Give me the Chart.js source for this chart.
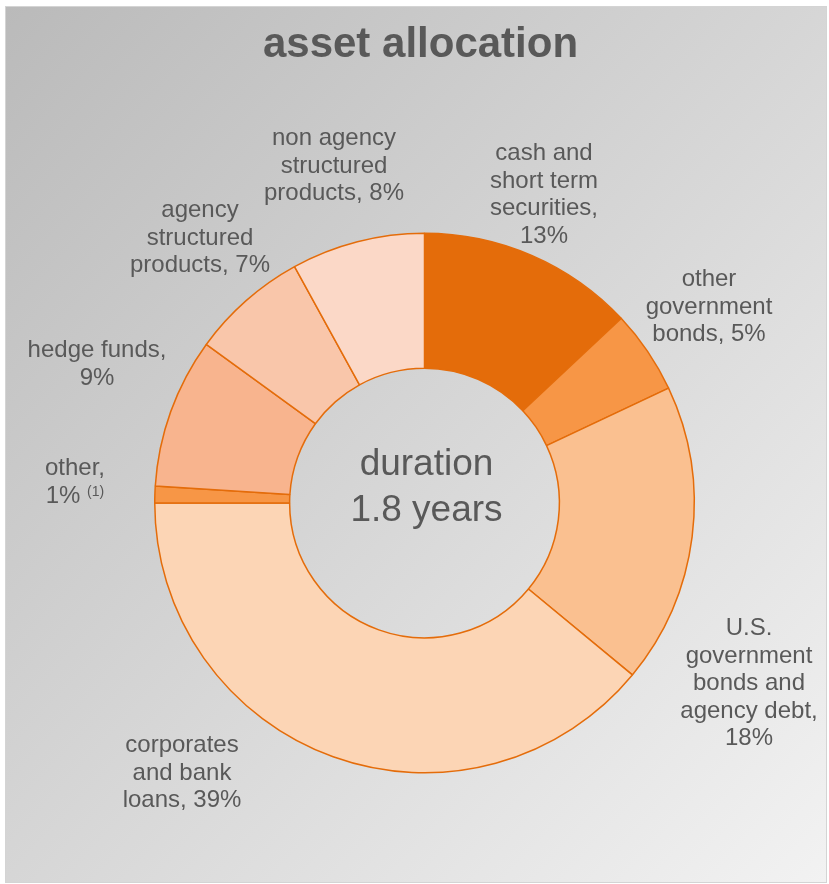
<!DOCTYPE html>
<html>
<head>
<meta charset="utf-8">
<script src="https://cdn.jsdelivr.net/npm/chart.js@4.4.1/dist/chart.umd.min.js"></script>
<style>
  html, body { margin: 0; padding: 0; background: #ffffff; }
  #panel {
    position: absolute; left: 5px; top: 6px; width: 820px; height: 875px;
    border: 1px solid #d4d4d4;
    background: linear-gradient(to bottom right, #bababa 0%, #d6d6d6 50%, #f2f2f2 100%);
  }
  #allocChart { position: absolute; left: 0; top: 0; }
</style>
</head>
<body>
<div id="panel"></div>
<canvas id="allocChart" width="829" height="884"></canvas>
<script>
// data, clockwise from 12 o'clock
const categories = [
  "cash and short term securities",
  "other government bonds",
  "U.S. government bonds and agency debt",
  "corporates and bank loans",
  "other",
  "hedge funds",
  "agency structured products",
  "non agency structured products"
];
const shares = [13, 5, 18, 39, 1, 9, 7, 8];
const sliceColors = ["#e46c0a", "#f79646", "#fac090", "#fcd5b5", "#f79646", "#f8b48e", "#f9c6aa", "#fbd8c7"];

// label text, {v} = percent
const labelLines = [
  ["cash and", "short term", "securities,", "{v}"],
  ["other", "government", "bonds, {v}"],
  ["U.S.", "government", "bonds and", "agency debt,", "{v}"],
  ["corporates", "and bank", "loans, {v}"],
  ["other,", "{v}"],
  ["hedge funds,", "{v}"],
  ["agency", "structured", "products, {v}"],
  ["non agency", "structured", "products, {v}"]
];
const footnotes = ["", "", "", "", "(1)", "", "", ""];

const chartTitle = "asset allocation";
const centerText = ["duration", "1.8 years"];

// where each label block sits: center x, first baseline y
const labelPos = [
  [544, 160], [709, 286], [749, 635], [182, 752],
  [75, 475], [97, 357], [200, 217], [334, 145]
];

const TEXT = "#595959";
const FONT = "'Liberation Sans', Arial, sans-serif";

const textPlugin = {
  id: "textPlugin",
  afterDraw(chart) {
    const ctx = chart.ctx;
    const arc = chart.getDatasetMeta(0).data[0];
    ctx.save();
    ctx.fillStyle = TEXT;
    ctx.textAlign = "center";
    ctx.textBaseline = "alphabetic";

    ctx.font = "bold 42px " + FONT;
    ctx.fillText(chartTitle, 420.5, 57);

    ctx.font = "37px " + FONT;
    ctx.fillText(centerText[0], arc.x + 2, 475);
    ctx.fillText(centerText[1], arc.x + 2, 521);

    labelLines.forEach((lines, i) => {
      const [cx, y0] = labelPos[i];
      lines.forEach((ln, j) => {
        const txt = ln.replace("{v}", shares[i] + "%");
        const y = y0 + j * 27.6;
        const isLast = j === lines.length - 1;
        if (isLast && footnotes[i]) {
          ctx.font = "24px " + FONT;
          const w1 = ctx.measureText(txt + " ").width;
          ctx.font = "14px " + FONT;
          const w2 = ctx.measureText(footnotes[i]).width;
          const x0 = cx - (w1 + w2) / 2;
          ctx.textAlign = "left";
          ctx.font = "24px " + FONT;
          ctx.fillText(txt, x0, y);
          ctx.font = "14px " + FONT;
          ctx.fillText(footnotes[i], x0 + w1, y - 7);
          ctx.textAlign = "center";
        } else {
          ctx.font = "24px " + FONT;
          ctx.fillText(txt, cx, y);
        }
      });
    });
    ctx.restore();
  }
};

new Chart(document.getElementById("allocChart"), {
  type: "doughnut",
  data: {
    labels: categories,
    datasets: [{
      data: shares,
      backgroundColor: sliceColors,
      borderColor: "#e46c0a",
      borderWidth: 1.5
    }]
  },
  options: {
    responsive: false,
    animation: false,
    cutout: "50%",
    layout: { padding: { left: 154, top: 232.5, right: 134, bottom: 110.5 } },
    plugins: {
      legend: { display: false },
      tooltip: { enabled: false },
      title: { display: false }
    }
  },
  plugins: [textPlugin]
});
</script>
</body>
</html>
